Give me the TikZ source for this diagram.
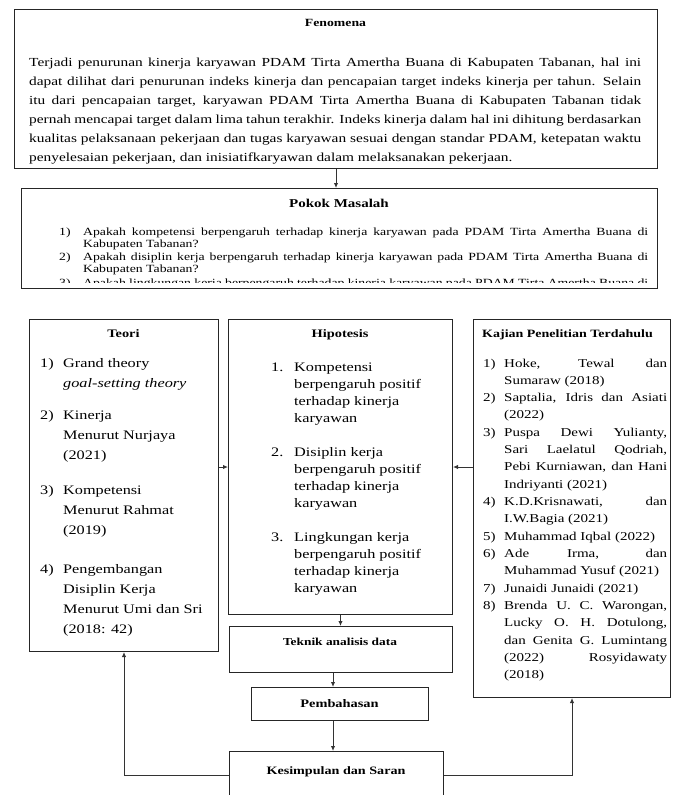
\documentclass[tikz,border=0pt]{standalone}
\usepackage{fontspec}
\setmainfont{Liberation Serif}[FakeStretch=1.25]
\usepackage{tikz}
\usetikzlibrary{arrows.meta, calc}

\newcommand{\jline}[2]{\makebox[#1][s]{#2}}

\begin{document}
\begin{tikzpicture}[x=1pt, y=-1pt, >={Latex[length=5pt,width=4.5pt]},
    box/.style={draw=black!85, line width=1pt, fill=white, inner sep=0pt, anchor=north west},
    txt/.style={inner sep=0pt, anchor=base west},
    head/.style={inner sep=0pt, anchor=base, font=\fontsize{11.5}{14}\selectfont\bfseries}]

\useasboundingbox (0,0) rectangle (678,795);

\begin{scope}[every node/.style={box}]
    \node[minimum width=643pt, minimum height=159pt] (fenomena) at (14,9) {};
    \node[minimum width=636pt, minimum height=100pt] (pokok) at (21,188) {};
    % middle row
    \node[minimum width=189pt, minimum height=332pt] (teori) at (29,319) {};
    \node[minimum width=224pt, minimum height=295pt] (hipotesis) at (228,319) {};
    \node[minimum width=197pt, minimum height=378pt] (kajian) at (473,319) {};
    % lower column
    \node[minimum width=223pt, minimum height=46pt] (teknik) at (229,626) {};
    \node[minimum width=177pt, minimum height=33pt] (pembahasan) at (251,687) {};
    \node[minimum width=214pt, minimum height=48pt] (kesimpulan) at (229,751) {};
\end{scope}

% Fenomena
\node[head, font=\fontsize{11}{13}\selectfont\bfseries] (fenomenaT) at (335.5,26) {Fenomena};
\node[txt, font=\fontsize{12.3}{19}\selectfont] (fenomenaP) at (29,66) {\begin{tabular}[t]{@{}l@{}}
\jline{612pt}{Terjadi penurunan kinerja karyawan PDAM Tirta Amertha Buana di Kabupaten Tabanan, hal ini}\\
\jline{612pt}{dapat dilihat dari penurunan indeks kinerja dan pencapaian target indeks kinerja per tahun. Selain}\\
\jline{612pt}{itu dari pencapaian target, karyawan PDAM Tirta Amertha Buana di Kabupaten Tabanan tidak}\\
\jline{612pt}{pernah mencapai target dalam lima tahun terakhir. Indeks kinerja dalam hal ini dihitung berdasarkan}\\
\jline{612pt}{kualitas pelaksanaan pekerjaan dan tugas karyawan sesuai dengan standar PDAM, ketepatan waktu}\\
penyelesaian pekerjaan, dan inisiatifkaryawan dalam melaksanakan pekerjaan.
\end{tabular}};

% Pokok Masalah
\node[head, font=\fontsize{12}{14}\selectfont\bfseries] (pokokT) at (339,207) {Pokok Masalah};
\begin{scope}
    \clip (21,188) rectangle (657,282);
    \node[txt, font=\fontsize{11}{12}\selectfont] (pokokP) at (59,235) {\begin{tabular}[t]{@{}p{24pt}@{}l@{}}
    1) & \jline{565pt}{Apakah kompetensi berpengaruh terhadap kinerja karyawan pada PDAM Tirta Amertha Buana di}\\
       & Kabupaten Tabanan?\\[1.5pt]
    2) & \jline{565pt}{Apakah disiplin kerja berpengaruh terhadap kinerja karyawan pada PDAM Tirta Amertha Buana di}\\
       & Kabupaten Tabanan?\\[1.5pt]
    3) & \jline{565pt}{Apakah lingkungan kerja berpengaruh terhadap kinerja karyawan pada PDAM Tirta Amertha Buana di}
    \end{tabular}};
\end{scope}

% Teori
\node[head] (teoriT) at (123.5,337) {Teori};
\begin{scope}[every node/.style={txt, font=\fontsize{13}{20}\selectfont}]
    \node (teori1) at (40,367) {\begin{tabular}[t]{@{}p{23pt}@{}l@{}}1) & Grand theory\\ & \textit{goal-setting theory}\end{tabular}};
    \node (teori2) at (40,419) {\begin{tabular}[t]{@{}p{23pt}@{}l@{}}2) & Kinerja\\ & Menurut Nurjaya\\ & (2021)\end{tabular}};
    \node (teori3) at (40,494) {\begin{tabular}[t]{@{}p{23pt}@{}l@{}}3) & Kompetensi\\ & Menurut Rahmat\\ & (2019)\end{tabular}};
    \node (teori4) at (40,573.5) {\begin{tabular}[t]{@{}p{23pt}@{}l@{}}4) & Pengembangan\\ & Disiplin Kerja\\ & Menurut Umi dan Sri\\ & (2018: 42)\end{tabular}};
\end{scope}

% Hipotesis
\node[head] (hipotesisT) at (340,337) {Hipotesis};
\begin{scope}[every node/.style={txt, font=\fontsize{13}{17}\selectfont}]
    \node (hipotesis1) at (271,371) {\begin{tabular}[t]{@{}p{23pt}@{}l@{}}1. & Kompetensi\\ & berpengaruh positif\\ & terhadap kinerja\\ & karyawan\end{tabular}};
    \node (hipotesis2) at (271,456) {\begin{tabular}[t]{@{}p{23pt}@{}l@{}}2. & Disiplin kerja\\ & berpengaruh positif\\ & terhadap kinerja\\ & karyawan\end{tabular}};
    \node (hipotesis3) at (271,541) {\begin{tabular}[t]{@{}p{23pt}@{}l@{}}3. & Lingkungan kerja\\ & berpengaruh positif\\ & terhadap kinerja\\ & karyawan\end{tabular}};
\end{scope}

% Kajian Penelitian Terdahulu
\node[head, anchor=base west, font=\fontsize{11.2}{13}\selectfont\bfseries] (kajianT) at (482,337) {Kajian Penelitian Terdahulu};
\node[txt, font=\fontsize{12}{17.33}\selectfont] (kajianP) at (483,367) {\begin{tabular}[t]{@{}p{21pt}@{}l@{}}
1) & \jline{163pt}{Hoke, Tewal dan}\\
   & Sumaraw (2018)\\
2) & \jline{163pt}{Saptalia, Idris dan Asiati}\\
   & (2022)\\
3) & \jline{163pt}{Puspa Dewi Yulianty,}\\
   & \jline{163pt}{Sari Laelatul Qodriah,}\\
   & \jline{163pt}{Pebi Kurniawan, dan Hani}\\
   & Indriyanti (2021)\\
4) & \jline{163pt}{K.D.Krisnawati, dan}\\
   & I.W.Bagia (2021)\\
5) & Muhammad Iqbal (2022)\\
6) & \jline{163pt}{Ade Irma, dan}\\
   & Muhammad Yusuf (2021)\\
7) & Junaidi Junaidi (2021)\\
8) & \jline{163pt}{Brenda U. C. Warongan,}\\
   & \jline{163pt}{Lucky O. H. Dotulong,}\\
   & \jline{163pt}{dan Genita G. Lumintang}\\
   & \jline{163pt}{(2022) Rosyidawaty}\\
   & (2018)
\end{tabular}};

% lower column
\node[head, font=\fontsize{10.7}{13}\selectfont\bfseries] (teknikT) at (340,645.5) {Teknik analisis data};
\node[head] (pembahasanT) at (339.5,707) {Pembahasan};
\node[head, font=\fontsize{11.3}{14}\selectfont\bfseries] (kesimpulanT) at (336,774) {Kesimpulan dan Saran};

\coordinate (mid) at (333,0);

\begin{scope}[
    every edge/.style={draw=black!80, line width=1pt}
]
    \path [->] (fenomena.south) edge (fenomena.south |- pokok.north);
    % middle row
    \path [->] (teori.east |- hipotesis.west) edge (hipotesis.west);
    \path [->] (kajian.west |- hipotesis.east) edge (hipotesis.east);
    % lower column
    \path [->] (hipotesis.south) edge (hipotesis.south |- teknik.north);
    \path [->] (teknik.south -| mid) edge (pembahasan.north -| mid);
    \path [->] (pembahasan.south -| mid) edge (kesimpulan.north -| mid);
\end{scope}

\draw [->, draw=black!80, line width=1pt] (kesimpulan.west) -| (teori.south);
\draw [->, draw=black!80, line width=1pt] (kesimpulan.east) -| (kajian.south);
\end{tikzpicture}
\end{document}
